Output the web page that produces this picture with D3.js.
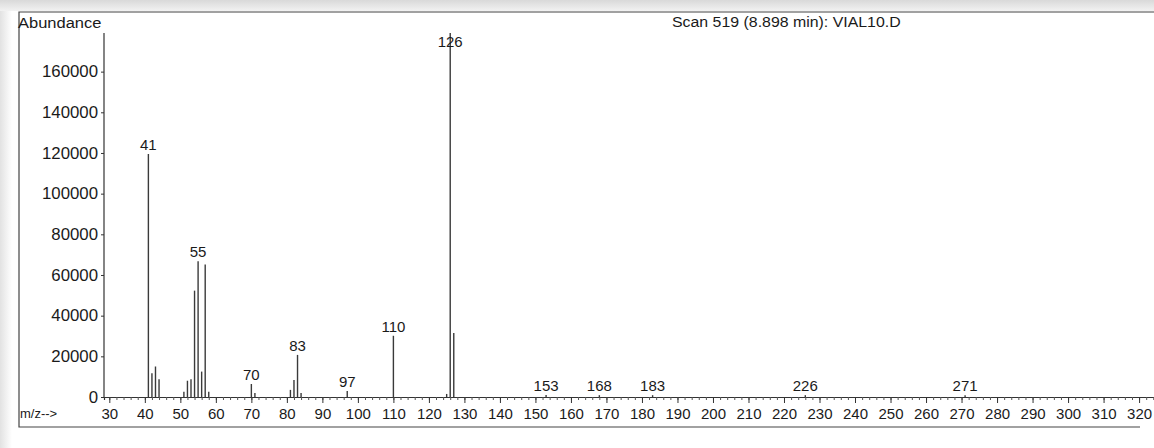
<!DOCTYPE html>
<html>
<head>
<meta charset="utf-8">
<script src="https://cdn.jsdelivr.net/npm/d3@7"></script>
<style>
  html, body { margin: 0; padding: 0; background: #fff; }
  svg { display: block; }
  text { font-family: "Liberation Sans", Arial, sans-serif; fill: #1a1a1a; }
</style>
</head>
<body>
<svg id="chart" width="1154" height="448"></svg>
<script>
// ---- data ----
const mz = [41, 42, 43, 44, 51, 52, 53, 54, 55, 56, 57, 58, 70, 71, 81, 82, 83, 84, 97, 110, 125, 126, 127, 153, 168, 183, 226, 271];
const abundance = [119500, 11700, 15000, 8700, 2600, 8000, 8700, 52300, 66800, 12500, 65200, 2600, 6400, 2000, 3500, 8400, 20700, 2000, 3000, 30100, 1500, 179000, 31500, 1000, 900, 900, 900, 800];
const peakLabels = [41, 55, 70, 83, 97, 110, 126, 153, 168, 183, 226, 271];
const yTickValues = [0, 20000, 40000, 60000, 80000, 100000, 120000, 140000, 160000];
const xTickValues = [30, 40, 50, 60, 70, 80, 90, 100, 110, 120, 130, 140, 150, 160, 170, 180, 190, 200, 210, 220, 230, 240, 250, 260, 270, 280, 290, 300, 310, 320];
const yTitle = "Abundance";
const xTitle = "m/z-->";
const scanTitle = "Scan 519 (8.898 min): VIAL10.D";

// ---- layout ----
const svg = d3.select("#chart");
const W = 1154, H = 448;
const x0 = 104, x1 = 1154, yBase = 397, yTop = 33;

// page shading like the scan
const defs = svg.append("defs");
const gTop = defs.append("linearGradient").attr("id", "gtop").attr("x1", 0).attr("x2", 0).attr("y1", 0).attr("y2", 1);
gTop.append("stop").attr("offset", "0%").attr("stop-color", "#d9d9d9");
gTop.append("stop").attr("offset", "100%").attr("stop-color", "#f2f2f2");
const gLeft = defs.append("linearGradient").attr("id", "gleft").attr("x1", 0).attr("x2", 1).attr("y1", 0).attr("y2", 0);
gLeft.append("stop").attr("offset", "0%").attr("stop-color", "#e2e2e2");
gLeft.append("stop").attr("offset", "100%").attr("stop-color", "#ffffff");
svg.append("rect").attr("x", 0).attr("y", 0).attr("width", W).attr("height", H).attr("fill", "#fff");
svg.append("rect").attr("x", 0).attr("y", 0).attr("width", 12).attr("height", H).attr("fill", "url(#gleft)");
svg.append("rect").attr("x", 0).attr("y", 0).attr("width", W).attr("height", 11).attr("fill", "url(#gtop)");

// frame
svg.append("path")
  .attr("d", `M${W},12 H19 V427 H1140`)
  .attr("fill", "none").attr("stroke", "#444").attr("stroke-width", 1.2);

const x = d3.scaleLinear().domain([28.5, 324.2]).range([x0, x1]);
const y = d3.scaleLinear().domain([0, 179000]).range([yBase, yTop]);

// y axis
const yAxis = svg.append("g").attr("transform", `translate(${x0},0)`)
  .call(d3.axisLeft(y).tickValues(yTickValues).tickFormat(d3.format("d")).tickSize(3).tickPadding(2));
yAxis.select(".domain").attr("stroke", "#333").attr("stroke-width", 1.2).attr("d", `M0,${yTop}V${yBase}`);
yAxis.selectAll(".tick line").attr("stroke", "#333");
yAxis.selectAll(".tick text")
  .attr("font-size", 16)
  .attr("fill", "#1a1a1a")
  .attr("transform", "translate(-6,0) scale(1.05,1)")
  .attr("x", 0);

// x axis minor ticks (every 2)
const minorTicks = d3.range(30, 325, 2);
const xMinor = svg.append("g").attr("transform", `translate(0,${yBase})`)
  .call(d3.axisBottom(x).tickValues(minorTicks).tickSize(3).tickFormat(""));
xMinor.select(".domain").attr("stroke", "#333").attr("stroke-width", 1.2);
xMinor.selectAll(".tick line").attr("stroke", "#555");

const xAxis = svg.append("g").attr("transform", `translate(0,${yBase})`)
  .call(d3.axisBottom(x).tickValues(xTickValues).tickSize(6).tickPadding(5));
xAxis.select(".domain").remove();
xAxis.selectAll(".tick line").attr("stroke", "#333");
xAxis.selectAll(".tick text").attr("font-size", 15).attr("fill", "#1a1a1a");

// titles
svg.append("text").attr("x", 18).attr("y", 28).attr("font-size", 15)
  .attr("transform", "translate(18,0) scale(1.1,1) translate(-18,0)")
  .text(yTitle);
svg.append("text").attr("x", 20).attr("y", 418).attr("font-size", 13).text(xTitle);
svg.append("text").attr("x", 672).attr("y", 27).attr("font-size", 15)
  .attr("transform", "translate(672,0) scale(1.06,1) translate(-672,0)")
  .text(scanTitle);

// bars
const data = mz.map((m, i) => ({ m, v: abundance[i] }));
svg.append("g").selectAll("line").data(data).join("line")
  .attr("x1", d => x(d.m)).attr("x2", d => x(d.m))
  .attr("y1", y(0)).attr("y2", d => y(d.v))
  .attr("stroke", "#3a3a3a").attr("stroke-width", 1.4);

// peak labels
const labelData = data.filter(d => peakLabels.includes(d.m));
svg.append("g").selectAll("text").data(labelData).join("text")
  .attr("x", d => x(d.m))
  .attr("y", d => Math.max(y(d.v) - 4, 47))
  .attr("text-anchor", "middle")
  .attr("font-size", 15)
  .text(d => d.m);
</script>
</body>
</html>
